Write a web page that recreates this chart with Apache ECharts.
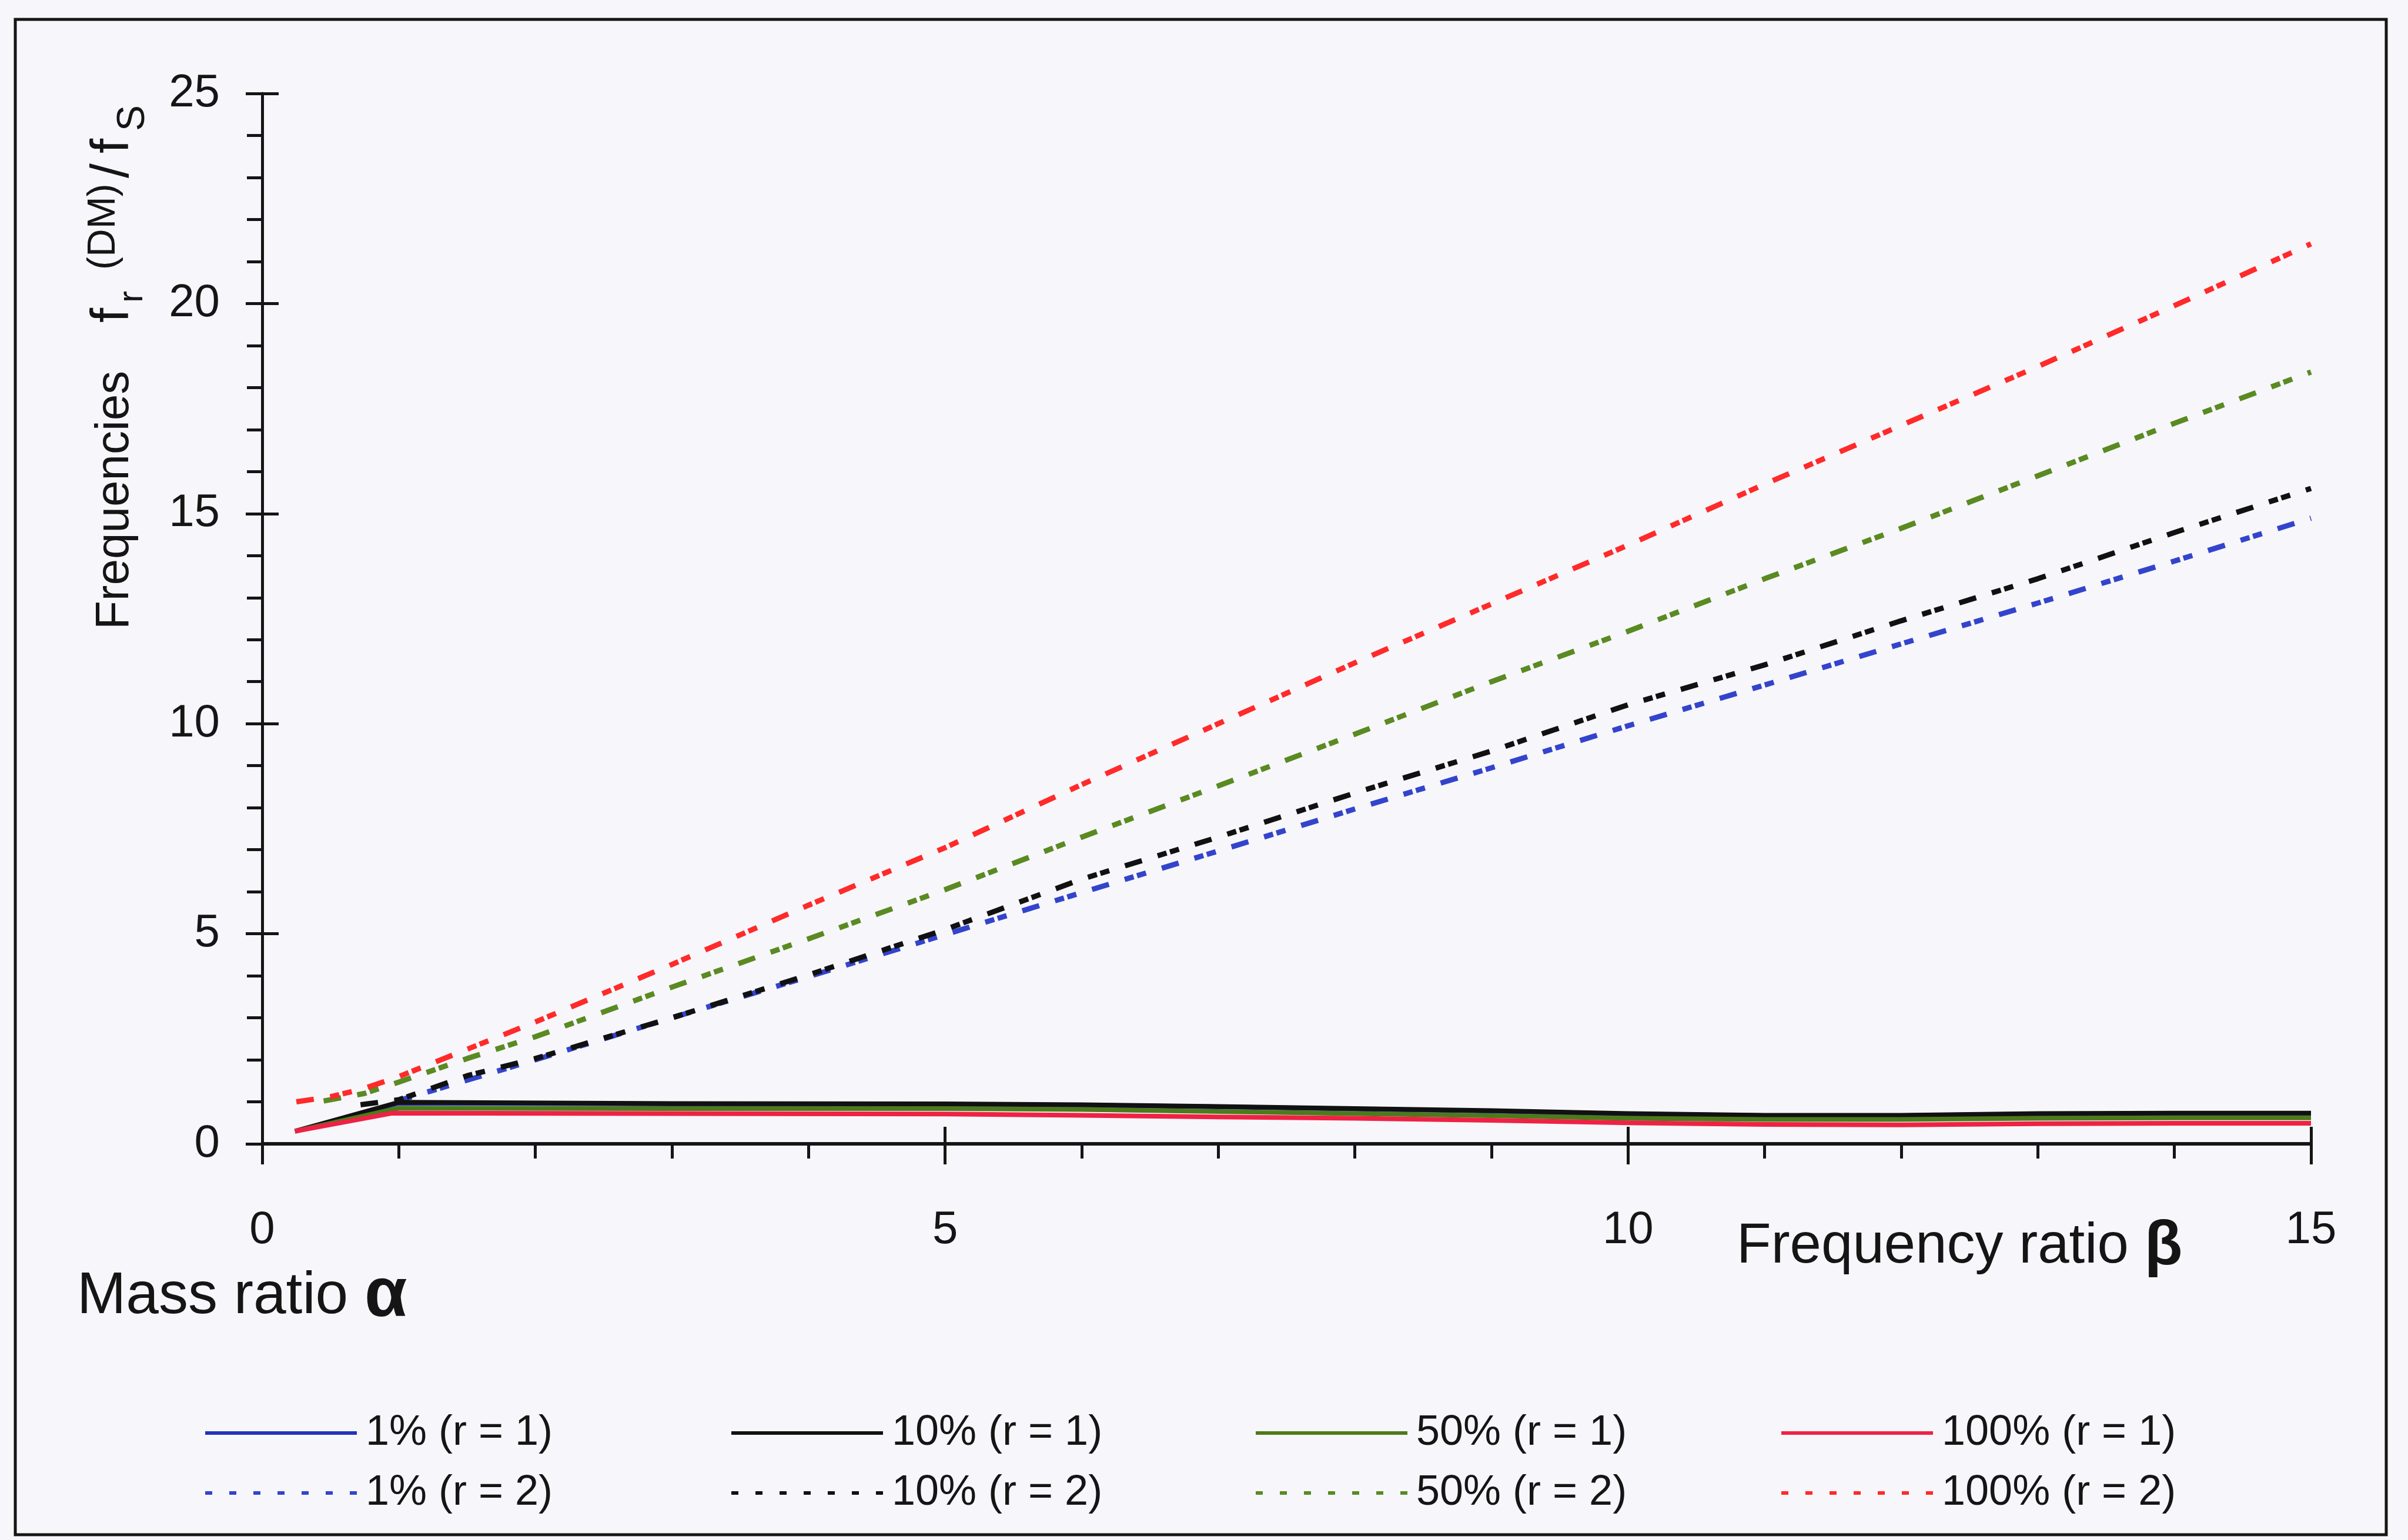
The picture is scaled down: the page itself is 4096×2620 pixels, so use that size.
<!DOCTYPE html>
<html>
<head>
<meta charset="utf-8">
<script src="https://cdn.jsdelivr.net/npm/echarts@6/dist/echarts.min.js"></script>
<style>
html,body{margin:0;padding:0;background:#f7f6fa;}
#chart{width:4096px;height:2620px;}
</style>
</head>
<body>
<div id="chart"></div>
<script>
// ---- data ----
const xTickValues = [0, 5, 10, 15];
const yTickValues = [0, 5, 10, 15, 20, 25];

const namesR1 = ['1% (r = 1)', '10% (r = 1)', '50% (r = 1)', '100% (r = 1)'];
const namesR2 = ['1% (r = 2)', '10% (r = 2)', '50% (r = 2)', '100% (r = 2)'];

// solid lines (r = 1): [beta, f/fs]
const blueR1 = [[0.24,0.30],[1,0.97],[3,0.95],[5,0.94],[6,0.92],[7,0.88],[8,0.83],[9,0.78],[10,0.71],[11,0.67],[12,0.67],[13,0.71],[14,0.72],[15,0.72]];
const blackR1 = [[0.24,0.30],[1,0.99],[3,0.96],[5,0.95],[6,0.93],[7,0.89],[8,0.84],[9,0.79],[10,0.72],[11,0.68],[12,0.68],[13,0.72],[14,0.73],[15,0.73]];
const greenR1 = [[0.24,0.30],[1,0.85],[3,0.84],[5,0.84],[6,0.82],[7,0.77],[8,0.72],[9,0.67],[10,0.61],[11,0.58],[12,0.58],[13,0.61],[14,0.62],[15,0.62]];
const redR1 = [[0.24,0.30],[0.95,0.73],[3,0.72],[5,0.71],[6,0.68],[7,0.64],[8,0.61],[9,0.56],[10,0.50],[11,0.46],[12,0.45],[13,0.48],[14,0.49],[15,0.49]];

// dotted lines (r = 2)
const blueR2 = [[0.97,1.0],[2,2.0],[3,3.0],[4,3.98],[5,4.98],[6,5.98],[7,6.97],[8,7.97],[9,8.95],[10,9.95],[11,10.92],[12,11.9],[13,12.87],[14,13.87],[15,14.89]];
const blackR2 = [[0.72,0.93],[1,1.05],[1.5,1.62],[2,2.03],[3,3.0],[4,4.02],[5,5.1],[6,6.3],[7,7.3],[8,8.35],[9,9.35],[10,10.45],[11,11.4],[12,12.45],[13,13.45],[14,14.55],[15,15.6]];
const greenR2 = [[0.45,1.02],[0.75,1.2],[1,1.47],[1.5,2.03],[2,2.55],[3,3.73],[4,4.88],[5,6.05],[6,7.3],[7,8.52],[8,9.75],[9,11.0],[10,12.2],[11,13.45],[12,14.65],[13,15.9],[14,17.15],[15,18.37]];
const redR2 = [[0.25,1.0],[0.5,1.12],[0.75,1.32],[1,1.6],[1.5,2.25],[2,2.9],[3,4.27],[4,5.68],[5,7.05],[6,8.55],[7,10.0],[8,11.45],[9,12.85],[10,14.25],[11,15.7],[12,17.1],[13,18.5],[14,19.95],[15,21.42]];

// ---- styling ----
const FONT = 'Liberation Sans, Arial, sans-serif';
const INK = '#151515';
const colorsR1 = ['#2233bb', '#111111', '#4d7a1c', '#ee2244'];
const colorsR2 = ['#3344cc', '#111111', '#5a8a22', '#ff2a2a'];
const dashR2 = [30, 28, 16, 6, 16, 28];

const r1Data = [blueR1, blackR1, greenR1, redR1];
const r2Data = [blueR2, blackR2, greenR2, redR2];

const series = [];
for (let i = 0; i < 4; i++) {
  series.push({
    name: namesR2[i], type: 'line', data: r2Data[i], symbol: 'none', smooth: false,
    lineStyle: { color: colorsR2[i], width: 9, type: dashR2 },
    itemStyle: { color: colorsR2[i] }, z: 2
  });
}
for (let i = 0; i < 4; i++) {
  series.push({
    name: namesR1[i], type: 'line', data: r1Data[i], symbol: 'none', smooth: false,
    lineStyle: { color: colorsR1[i], width: 8, type: 'solid', join: 'round' },
    itemStyle: { color: colorsR1[i] }, z: 3
  });
}

// legends: 4 columns x 2 rows
const legendCols = [346, 1241, 2133, 3027];
const legendRows = [2398, 2500];
const legends = [];
[namesR1, namesR2].forEach((names, r) => {
  names.forEach((nm, c) => {
    legends.push({
      show: true, orient: 'horizontal', left: legendCols[c], top: legendRows[r],
      padding: 0, itemGap: 0, itemWidth: 258, itemHeight: 80, selectedMode: false,
      data: [nm],
      textStyle: { fontSize: 72, color: INK, fontFamily: FONT, lineHeight: 80, padding: [0, 0, 0, 10] },
      itemStyle: { opacity: 0 },
      lineStyle: r === 0 ? { width: 6, type: 'solid' } : { width: 6, type: [12, 29] }
    });
  });
});

const tickLine = { color: INK, width: 5 };

const option = {
  animation: false,
  backgroundColor: '#f7f6fa',
  grid: { left: 446, right: 165, top: 159, bottom: 674, containLabel: false, outerBoundsMode: 'none' },
  legend: legends,
  xAxis: [
    {
      type: 'value', min: xTickValues[0], max: xTickValues[xTickValues.length - 1], interval: 5, position: 'bottom',
      axisLine: { show: true, onZero: false, lineStyle: { color: INK, width: 6 } },
      axisTick: { show: true, inside: false, length: 35, lineStyle: tickLine },
      minorTick: { show: true, splitNumber: 5, length: 25, lineStyle: tickLine },
      axisLabel: { show: true, margin: 108, fontSize: 78, lineHeight: 78, color: INK, fontFamily: FONT },
      splitLine: { show: false }, minorSplitLine: { show: false }
    },
    {
      type: 'value', min: xTickValues[0], max: xTickValues[xTickValues.length - 1], interval: 5, position: 'bottom',
      axisLine: { show: false },
      axisTick: { show: true, inside: true, length: 29, lineStyle: tickLine },
      axisLabel: { show: false }, splitLine: { show: false }
    }
  ],
  yAxis: [
    {
      type: 'value', min: yTickValues[0], max: yTickValues[yTickValues.length - 1], interval: 5, position: 'left',
      axisLine: { show: true, onZero: false, lineStyle: { color: INK, width: 5 } },
      axisTick: { show: true, inside: false, length: 28, lineStyle: tickLine },
      minorTick: { show: true, splitNumber: 5, length: 26, lineStyle: tickLine },
      axisLabel: { show: true, margin: 72, fontSize: 78, color: INK, fontFamily: FONT },
      splitLine: { show: false }, minorSplitLine: { show: false }
    },
    {
      type: 'value', min: yTickValues[0], max: yTickValues[yTickValues.length - 1], interval: 5, position: 'left',
      axisLine: { show: false },
      axisTick: { show: true, inside: true, length: 28, lineStyle: tickLine },
      axisLabel: { show: false }, splitLine: { show: false }
    }
  ],
  graphic: [
    { type: 'rect', silent: true, z: -10, shape: { x: 26, y: 33, width: 4033, height: 2578 },
      style: { fill: 'transparent', stroke: INK, lineWidth: 5 } },
    { type: 'group', x: 221, y: 1071, rotation: Math.PI / 2, children: [
      { type: 'text', x: 0, y: -25, style: { text: 'Frequencies', fontSize: 80, fontFamily: FONT, fill: INK, align: 'left', verticalAlign: 'middle' } },
      { type: 'text', x: 522, y: -28, style: { text: 'f', fontSize: 90, fontFamily: FONT, fill: INK, align: 'left', verticalAlign: 'middle' } },
      { type: 'text', x: 556, y: 4, style: { text: 'r', fontSize: 60, fontFamily: FONT, fill: INK, align: 'left', verticalAlign: 'middle' } },
      { type: 'text', x: 612, y: -44, style: { text: '(DM)', fontSize: 66, fontFamily: FONT, fill: INK, align: 'left', verticalAlign: 'middle' } },
      { type: 'text', x: 768, y: -28, style: { text: '/', fontSize: 90, fontFamily: FONT, fill: INK, align: 'left', verticalAlign: 'middle' } },
      { type: 'text', x: 810, y: -28, style: { text: 'f', fontSize: 90, fontFamily: FONT, fill: INK, align: 'left', verticalAlign: 'middle' } },
      { type: 'text', x: 848, y: 6, style: { text: 'S', fontSize: 66, fontFamily: FONT, fill: INK, align: 'left', verticalAlign: 'middle' } }
    ] },
    { type: 'text', x: 2954, y: 2122, style: {
      text: '{a|Frequency ratio }{b|β}', fill: INK, align: 'left', verticalAlign: 'middle',
      rich: { a: { fontSize: 96, fontFamily: FONT, fill: INK }, b: { fontSize: 106, fontFamily: FONT, fontWeight: 'bold', fill: INK } } } },
    { type: 'text', x: 131, y: 2206, style: {
      text: '{a|Mass ratio }{b|α}', fill: INK, align: 'left', verticalAlign: 'middle',
      rich: { a: { fontSize: 100, fontFamily: FONT, fill: INK }, b: { fontSize: 118, fontFamily: FONT, fontWeight: 'bold', fill: INK } } } }
  ],
  series: series
};

const chart = echarts.init(document.getElementById('chart'), null, { renderer: 'canvas', width: 4096, height: 2620 });
chart.setOption(option);
</script>
</body>
</html>
